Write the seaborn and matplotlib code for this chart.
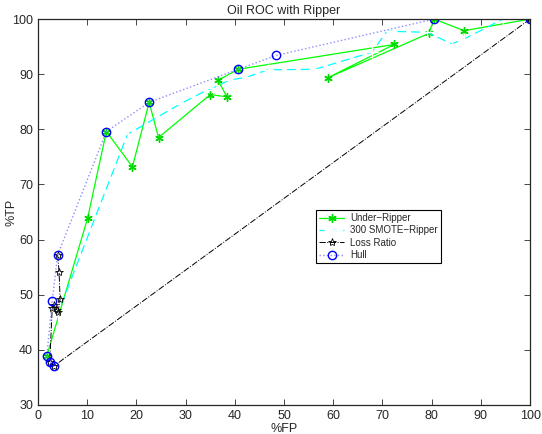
import matplotlib
matplotlib.use("Agg")
import matplotlib.pyplot as plt
import seaborn as sns

# Under-Ripper
under_fp = [1.8, 10.1, 13.9, 19.2, 22.6, 24.5, 35.0, 38.4, 36.6, 40.7, 72.4, 59.0, 79.4, 80.5, 86.6, 100]
under_tp = [38.9, 63.9, 79.6, 73.2, 84.9, 78.5, 86.3, 85.9, 88.9, 90.9, 95.4, 89.4, 97.4, 100, 97.9, 100]

# 300 SMOTE-Ripper
smote_fp = [4.0, 18.2, 28.9, 34.3, 35.6, 38.8, 42.5, 46.7, 56.3, 67.9, 70.9, 79.1, 84.1, 86.6, 94.5, 100]
smote_tp = [46.5, 79.1, 84.6, 87.1, 87.5, 88.9, 89.5, 90.8, 90.9, 94.0, 97.8, 97.6, 95.5, 96.4, 100, 100]

# Loss Ratio
loss_fp = [4.0, 4.3, 4.5, 4.1, 3.8, 3.3, 2.9, 2.4, 3.3, 100]
loss_tp = [57.2, 54.1, 49.2, 46.9, 47.2, 48.1, 47.6, 37.7, 37.1, 100]

# Hull
hull_fp = [3.3, 2.4, 1.8, 2.9, 4.0, 13.9, 22.6, 40.7, 48.4, 80.5, 100]
hull_tp = [37.1, 37.7, 38.9, 48.9, 57.2, 79.6, 84.9, 90.9, 93.4, 100, 100]

sns.set_style("ticks")
plt.rcParams['font.family'] = ['Liberation Sans', 'DejaVu Sans']

fig = plt.figure(figsize=(5.42, 4.34), dpi=100)
ax = fig.add_axes([0.070, 0.067, 0.908, 0.889])

sns.lineplot(x=under_fp, y=under_tp, sort=False, estimator=None, ax=ax,
             color=(0, 1, 0), lw=0.9, marker=(6, 2, 0), markersize=6,
             markeredgecolor=(0, 0.85, 0), markeredgewidth=1.0, label='Under\u2212Ripper')
sns.lineplot(x=smote_fp, y=smote_tp, sort=False, estimator=None, ax=ax,
             color=(0, 1, 1), lw=0.9, ls=(3, (7, 4)), marker='+', markersize=8,
             markeredgewidth=0.9, label='300 SMOTE\u2212Ripper')
sns.lineplot(x=loss_fp, y=loss_tp, sort=False, estimator=None, ax=ax,
             color='black', lw=0.7, ls='-.', marker='*', markersize=6,
             markerfacecolor='none', markeredgecolor='black', markeredgewidth=0.6,
             label='Loss Ratio')
sns.lineplot(x=hull_fp, y=hull_tp, sort=False, estimator=None, ax=ax,
             color=(0.55, 0.55, 1), lw=1.0, ls=':', marker='o', markersize=6,
             markerfacecolor='none', markeredgecolor='blue', markeredgewidth=1.0,
             label='Hull')

ax.set_xlim(0, 100)
ax.set_ylim(30, 100)
ax.set_xticks(range(0, 101, 10))
ax.set_yticks(range(30, 101, 10))
ax.tick_params(direction='in', top=True, right=True, labelsize=9, length=4, width=0.6)
for s in ax.spines.values():
    s.set_linewidth(0.9)
    s.set_visible(True)
ax.set_xlabel('%FP', fontsize=9, labelpad=1)
ax.set_ylabel('%TP', fontsize=9)
ax.yaxis.set_label_coords(-0.042, 0.5)
ax.set_title('Oil ROC with Ripper', fontsize=9, pad=4)

leg = ax.legend(loc='upper left', bbox_to_anchor=(0.565, 0.505), fontsize=7,
                frameon=True, fancybox=False, edgecolor='black', framealpha=1,
                borderaxespad=0, handlelength=2.6, borderpad=0.3,
                labelspacing=0.25, handletextpad=0.6)
leg.get_frame().set_linewidth(0.8)

fig.savefig('out.png', dpi=100)
